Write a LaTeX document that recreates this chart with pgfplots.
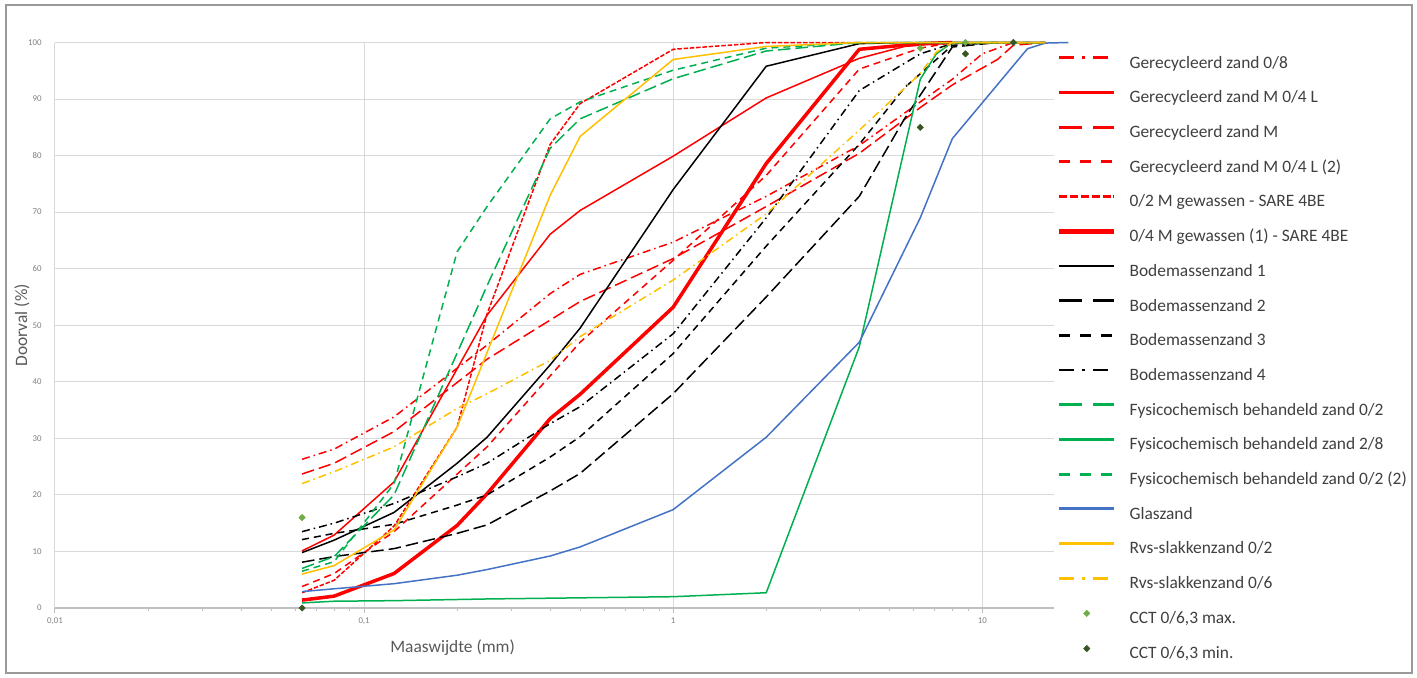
\documentclass[border=0pt]{standalone}
\usepackage{fontspec}
\setmainfont{Carlito}
\usepackage{pgfplots}
\pgfplotsset{compat=1.18}
\definecolor{cRed}{HTML}{FF0000}
\definecolor{cGreen}{HTML}{00B050}
\definecolor{cBlue}{HTML}{4472C4}
\definecolor{cYellow}{HTML}{FFC000}
\definecolor{cLG}{HTML}{70AD47}
\definecolor{cDG}{HTML}{375623}
\definecolor{gridc}{HTML}{D9D9D9}
\definecolor{axisc}{HTML}{BFBFBF}
\definecolor{tickc}{HTML}{7F7F7F}
\definecolor{labc}{HTML}{595959}
\definecolor{legc}{HTML}{404040}
\definecolor{framec}{HTML}{999999}
\tikzset{
  pDD/.style={dash pattern=on 4pt off 2pt on 0.75pt off 2pt},
  pLD/.style={dash pattern=on 6.25pt off 2.5pt},
  pD/.style={dash pattern=on 3.5pt off 2.5pt},
  pSD/.style={dash pattern=on 2.25pt off 0.9pt},
}
\pgfplotsset{
  leg/.style 2 args={legend image code/.code={\draw[##1,line width=#1,#2] (0pt,3pt) -- (27.5pt,3pt);}},
  legmark/.style={legend image code/.code={\draw[##1] plot coordinates {(13.75pt,3pt)};}},
}
\begin{document}
\begin{tikzpicture}
\path[use as bounding box, fill=white] (0,0) rectangle (708.5pt,338.5pt);
\draw[framec, line width=1pt] (2.8pt,2pt) rectangle (706pt,336.2pt);
\begin{axis}[
  at={(27.5pt,34.5pt)}, anchor=south west,
  scale only axis, width=499.5pt, height=282.75pt,
  xmode=log, xmin=0.01, xmax=17.06, ymin=0, ymax=100,
  clip=false,
  xtick={0.01,0.1,1,10}, xticklabels={{0,01},{0,1},1,10},
  minor xtick={0.02,0.03,0.04,0.05,0.06,0.07,0.08,0.09,0.2,0.3,0.4,0.5,0.6,0.7,0.8,0.9,2,3,4,5,6,7,8,9},
  ytick={0,10,...,100},
  /pgf/number format/assume math mode=true,
  grid=major, major grid style={gridc, line width=0.5pt},
  axis x line*=bottom, axis y line*=left,
  x axis line style={axisc, line width=0.6pt, -},
  y axis line style={gridc, line width=0.5pt, -},
  tick align=outside,
  xtick style={axisc, line width=0.5pt},
  major tick length=2.5pt, minor tick length=1.5pt,
  ytick style={draw=none},
  tick label style={font=\fontsize{4.4}{5}\selectfont, text=tickc},
  yticklabel style={anchor=east, inner sep=0pt, xshift=-4pt},
  xticklabel style={anchor=north, inner sep=0pt, yshift=-2pt},
  label style={font=\fontsize{8.7}{10}\selectfont, text=labc},
  xlabel={Maaswijdte (mm)},
  xlabel style={at={(axis description cs:0.398,-0.0707)}, anchor=center},
  ylabel={Doorval (\%)},
  ylabel style={at={(axis description cs:-0.033,0.5)}, anchor=center},
  legend cell align=left,
  legend style={at={(axis description cs:1.003,0.978)}, anchor=north west,
    draw=none, fill=none, inner sep=0pt, outer sep=0pt,
    font=\fontsize{8.7}{10.5}\selectfont, text=legc,
    row sep=8.55pt, column sep=6.5pt,
    nodes={inner sep=0pt, text height=6.6pt, text depth=2.2pt}},
  every axis plot/.append style={line width=0.75pt, line join=round},
]
% Gerecycleerd zand 0/8
\addplot[cRed, pDD, leg={1.4pt}{dash pattern=on 7.5pt off 4pt on 1.5pt off 4pt}] coordinates {
(0.063,26.3)(0.08,28.1)(0.125,33.8)(0.25,46.5)(0.4,55.6)(0.5,59)(1,64.7)(2,72.8)(4,81.8)(6.3,89.5)(8,93.5)(10,98)(12.6,100)(16,100)};
\addlegendentry{Gerecycleerd zand 0/8}
% Gerecycleerd zand M 0/4 L
\addplot[cRed, solid, leg={1.4pt}{solid}] coordinates {
(0.063,10.1)(0.08,12.9)(0.125,22.3)(0.25,51.8)(0.4,66.1)(0.5,70.3)(1,79.9)(2,90.2)(4,97.2)(5.6,99.3)(8,100)(16,100)};
\addlegendentry{Gerecycleerd zand M 0/4 L}
% Gerecycleerd zand M
\addplot[cRed, pLD, leg={1.4pt}{dash pattern=on 11.5pt off 5.5pt}] coordinates {
(0.063,23.7)(0.08,25.6)(0.125,31.2)(0.25,44)(0.5,54.2)(1,61.8)(2,71)(4,80.4)(6.3,88.5)(8,92.5)(11.2,97)(12.6,99.5)(16,100)};
\addlegendentry{Gerecycleerd zand M}
% Gerecycleerd zand M 0/4 L (2)
\addplot[cRed, pD, leg={1.4pt}{dash pattern=on 5.5pt off 5pt}] coordinates {
(0.063,3.8)(0.08,6.1)(0.125,13.5)(0.25,28.5)(0.5,47)(1,61.5)(2,76.5)(4,95.3)(6.3,99)(8,100)(16,100)};
\addlegendentry{Gerecycleerd zand M 0/4 L (2)}
% 0/2 M gewassen - SARE 4BE
\addplot[cRed, pSD, leg={1.4pt}{dash pattern=on 4pt off 1.4pt}] coordinates {
(0.063,2.7)(0.08,4.9)(0.125,14.5)(0.2,32)(0.25,52)(0.4,82)(0.5,89.2)(1,98.8)(2,100)(4,100)};
\addlegendentry{0/2 M gewassen - SARE 4BE}
% 0/4 M gewassen (1) - SARE 4BE
\addplot[cRed, solid, line width=1.75pt, leg={2.3pt}{solid}] coordinates {
(0.063,1.4)(0.08,2.1)(0.125,6.1)(0.2,14.6)(0.25,20.2)(0.4,33.5)(0.5,37.8)(1,53.2)(2,78.6)(4,98.8)(6.3,99.8)(8,100)};
\addlegendentry{0/4 M gewassen (1) - SARE 4BE}
% Bodemassenzand 1
\addplot[black, solid, leg={1.4pt}{solid}] coordinates {
(0.063,9.8)(0.08,12)(0.125,16.9)(0.2,25.6)(0.25,30.2)(0.4,43)(0.5,49.5)(1,74)(2,95.8)(4,99.8)(5.6,100)(16,100)};
\addlegendentry{Bodemassenzand 1}
% Bodemassenzand 2
\addplot[black, pLD, leg={1.4pt}{dash pattern=on 11.5pt off 5.5pt}] coordinates {
(0.063,8.1)(0.08,9.1)(0.125,10.5)(0.2,13.2)(0.25,14.7)(0.4,20.7)(0.5,23.8)(1,37.9)(2,55)(4,72.8)(5.6,86.5)(8,99.2)(11.2,100)};
\addlegendentry{Bodemassenzand 2}
% Bodemassenzand 3
\addplot[black, pD, leg={1.4pt}{dash pattern=on 5.5pt off 5pt}] coordinates {
(0.063,12.1)(0.08,13.2)(0.125,14.8)(0.2,18.2)(0.25,20)(0.4,26.7)(0.5,30.3)(1,45)(2,64)(4,82)(5.6,92)(8,99.5)(11.2,100)};
\addlegendentry{Bodemassenzand 3}
% Bodemassenzand 4
\addplot[black, pDD, leg={1.4pt}{dash pattern=on 7.5pt off 4pt on 1.5pt off 4pt}] coordinates {
(0.063,13.5)(0.08,15)(0.125,18.5)(0.2,23.2)(0.25,25.6)(0.4,32.6)(0.5,35.6)(1,48.5)(2,69)(4,91.5)(6.3,98)(8,99.8)(11.2,100)};
\addlegendentry{Bodemassenzand 4}
% Fysicochemisch behandeld zand 0/2
\addplot[cGreen, pLD, leg={1.4pt}{dash pattern=on 11.5pt off 5.5pt}] coordinates {
(0.063,7)(0.08,9.1)(0.125,20)(0.25,57)(0.4,81.3)(0.5,86.5)(1,93.6)(2,98.5)(4,100)(16,100)};
\addlegendentry{Fysicochemisch behandeld zand 0/2}
% Fysicochemisch behandeld zand 2/8
\addplot[cGreen, solid, leg={1.4pt}{solid}] coordinates {
(0.063,0.9)(0.08,1.2)(0.125,1.3)(0.25,1.6)(0.5,1.8)(1,2.0)(2,2.7)(4,46.2)(6.3,93.5)(7.1,98)(8,100)(16,100)};
\addlegendentry{Fysicochemisch behandeld zand 2/8}
% Fysicochemisch behandeld zand 0/2 (2)
\addplot[cGreen, pD, leg={1.4pt}{dash pattern=on 5.5pt off 5pt}] coordinates {
(0.063,6.5)(0.08,8.2)(0.125,22)(0.2,63)(0.25,71)(0.4,86.5)(0.5,89.5)(1,95.1)(2,99)(4,100)(16,100)};
\addlegendentry{Fysicochemisch behandeld zand 0/2 (2)}
% Glaszand
\addplot[cBlue, solid, leg={1.4pt}{solid}] coordinates {
(0.063,2.9)(0.08,3.4)(0.125,4.3)(0.2,5.8)(0.25,6.8)(0.4,9.2)(0.5,10.8)(1,17.4)(2,30.2)(4,47)(6.3,69)(8,83)(14,98.9)(16,99.9)(19,100)};
\addlegendentry{Glaszand}
% Rvs-slakkenzand 0/2
\addplot[cYellow, solid, leg={1.4pt}{solid}] coordinates {
(0.063,6)(0.08,7.5)(0.125,13.8)(0.2,32)(0.4,73)(0.5,83.4)(1,97)(2,99.3)(4,100)(16,100)};
\addlegendentry{Rvs-slakkenzand 0/2}
% Rvs-slakkenzand 0/6
\addplot[cYellow, pDD, leg={1.4pt}{dash pattern=on 7.5pt off 4pt on 1.5pt off 4pt}] coordinates {
(0.063,22)(0.08,24.1)(0.125,28.5)(0.2,35.3)(0.25,37.9)(0.4,43.8)(0.5,48)(1,58)(2,69.7)(4,84.5)(6.3,94.5)(7.1,98.3)(8,100)(16,100)};
\addlegendentry{Rvs-slakkenzand 0/6}
% CCT 0/6,3 max.
\addplot[only marks, mark=square*, mark size=1.15pt, mark options={draw=cLG, fill=cLG, line width=0.2pt, rotate=45}, legmark] coordinates {
(0.063,16)(6.3,99)(8.82,100)(12.6,100)};
\addlegendentry{CCT 0/6,3 max.}
% CCT 0/6,3 min.
\addplot[only marks, mark=square*, mark size=1.15pt, mark options={draw=cDG, fill=cDG, line width=0.2pt, rotate=45}, legmark] coordinates {
(0.063,0)(6.3,85)(8.82,98)(12.6,100)};
\addlegendentry{CCT 0/6,3 min.}
\end{axis}
\end{tikzpicture}
\end{document}
